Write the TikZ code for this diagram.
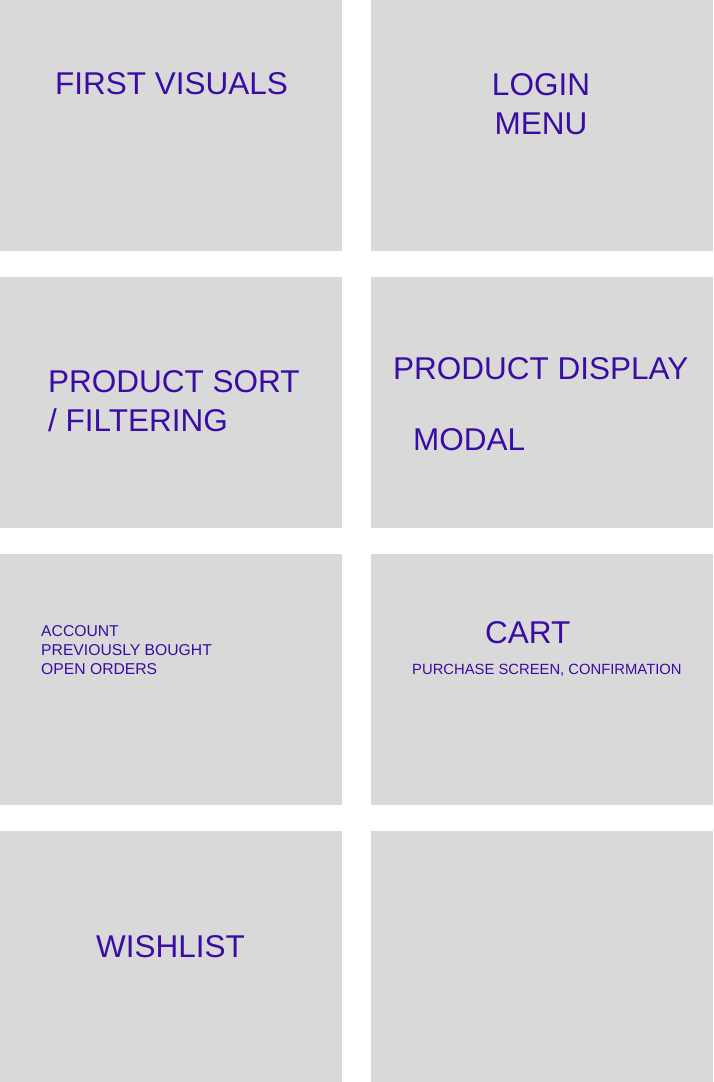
\documentclass[tikz,border=0pt]{standalone}
\usepackage{fontspec}
\setmainfont{Liberation Sans}
\usetikzlibrary{positioning}
\definecolor{panelgray}{RGB}{217,217,217}
\definecolor{labelpurple}{RGB}{58,12,163}
\tikzset{
  panel/.style     = {fill=panelgray, draw=none, anchor=north west, inner sep=0pt,
                      minimum width=342pt, minimum height=251pt},
  bigtext/.style   = {text=labelpurple, inner sep=0pt,
                      font=\fontsize{31.5}{39}\selectfont},
  smalltext/.style = {text=labelpurple, inner sep=0pt,
                      font=\fontsize{15.7}{19}\selectfont},
  subtext/.style   = {text=labelpurple, inner sep=0pt,
                      font=\fontsize{14.8}{18}\selectfont},
}

\begin{document}
\begin{tikzpicture}[x=1pt, y=-1pt]
\useasboundingbox (0,0) rectangle (713,1082);

% ===== panels =====
\node[panel] (visuals) at (0,0)   {};
\node[panel] (login)   at (371,0) {};
\node[panel] (sort)    at (0,277)   {};
\node[panel] (display) at (371,277) {};
\node[panel] (account) at (0,554)   {};
\node[panel] (cart)    at (371,554) {};
\node[panel] (wish)    at (0,831)   {};
\node[panel] (empty)   at (371,831) {};

% ===== labels =====
\node[bigtext, anchor=base west] (visualsA) at (55,94) {FIRST VISUALS};

\node[bigtext, anchor=base] (loginA) at (541,95) {LOGIN};
\node[bigtext, anchor=base] (loginB) at ([yshift=-39pt]loginA.base) {MENU};

\node[bigtext, anchor=base west] (sortA) at (48,392) {PRODUCT SORT};
\node[bigtext, anchor=base west] (sortB) at ([yshift=-39pt]sortA.base west) {/ FILTERING};

\node[bigtext, anchor=base west] (displayA) at (393,379) {PRODUCT DISPLAY};
\node[bigtext, anchor=base west] (displayB) at (413,450) {MODAL};

\node[smalltext, anchor=base west] (accountA) at (41,636) {ACCOUNT};
\node[smalltext, anchor=base west] (accountB) at ([yshift=-19pt]accountA.base west) {PREVIOUSLY BOUGHT};
\node[smalltext, anchor=base west] (accountC) at ([yshift=-19pt]accountB.base west) {OPEN ORDERS};

\node[bigtext, anchor=base west] (cartA) at (485,643) {CART};
\node[subtext, anchor=base west] (cartB) at (412,674) {PURCHASE SCREEN, CONFIRMATION};

\node[bigtext, anchor=base west] (wishA) at (96,957) {WISHLIST};

\end{tikzpicture}
\end{document}
